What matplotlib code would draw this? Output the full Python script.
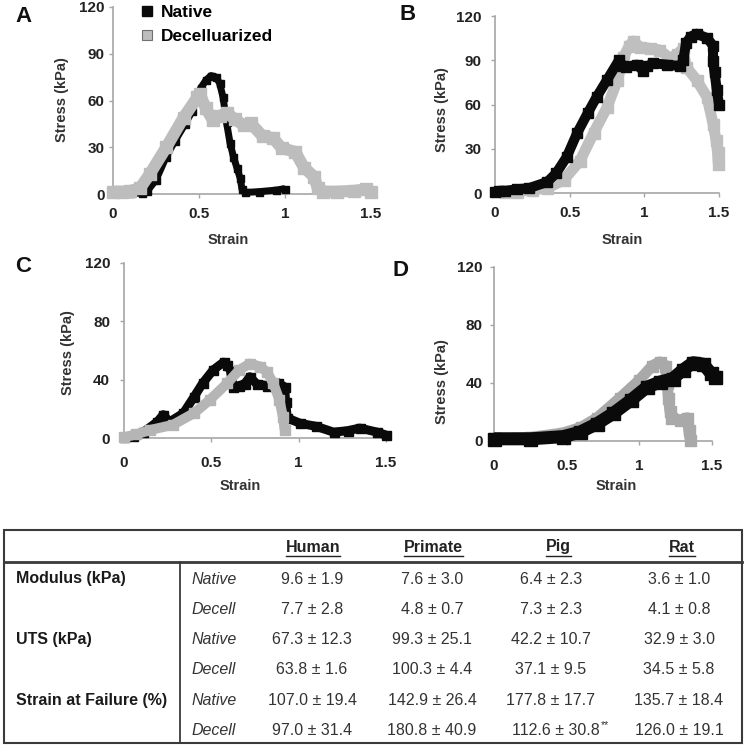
import matplotlib
matplotlib.use("Agg")
import matplotlib.pyplot as plt
from matplotlib.lines import Line2D
from matplotlib.patches import Rectangle

plt.rcParams['font.family'] = ['Liberation Sans', 'DejaVu Sans']

# ---------------- data ----------------
strain_ticks = [0, 0.5, 1, 1.5]
strain_tick_labels = ["0", "0.5", "1", "1.5"]
stress_ticks_ab = [0, 30, 60, 90, 120]
stress_ticks_cd = [0, 40, 80, 120]

a_nat_x = [0.0, 0.1, 0.17, 0.2, 0.25, 0.31, 0.36, 0.42, 0.46, 0.48, 0.51, 0.54, 0.57, 0.6, 0.62, 0.64,
           0.66, 0.68, 0.7, 0.72, 0.74, 0.75, 0.77, 0.85, 0.95, 1.0]
a_nat_y = [0.5, 0.5, 0.5, 2, 9, 24, 34, 45, 53, 60, 68, 73, 76, 75, 71, 62,
           46, 33, 24, 17, 10, 3, 1, 1.5, 2.5, 3.5]
a_dec_x = [0.0, 0.05, 0.1, 0.157, 0.215, 0.31, 0.41, 0.49, 0.505, 0.54, 0.58, 0.62, 0.66, 0.71,
           0.76, 0.8, 0.87, 0.93, 0.98, 1.06, 1.11, 1.17, 1.19, 1.22, 1.3, 1.4, 1.47, 1.5]
a_dec_y = [1.5, 1.5, 2, 3.7, 13, 30, 49, 62, 64, 55, 47.5, 50, 52, 48,
           44, 45.5, 37, 36, 29.5, 27, 17, 11, 3.7, 1.5, 1.5, 2, 3, 1.5]

b_nat_x = [0.0, 0.03, 0.07, 0.15, 0.23, 0.35, 0.41, 0.48, 0.55, 0.62, 0.68, 0.75, 0.83, 0.86, 0.88,
           0.95, 0.99, 1.02, 1.06, 1.15, 1.24, 1.26, 1.28, 1.31, 1.35, 1.42, 1.46, 1.46, 1.47, 1.485, 1.5]
b_nat_y = [1, 1.5, 1.5, 2.5, 3.4, 7.5, 13.5, 24.4, 40.6, 54, 65, 76.6, 90, 86, 85.5,
           87, 83, 86, 88, 87, 86, 90, 101.7, 106, 108, 105, 100, 89.5, 82, 70, 60]
b_dec_x = [0.07, 0.15, 0.25, 0.35, 0.46, 0.57, 0.66, 0.75, 0.82, 0.86, 0.9, 0.925, 0.97, 1.04,
           1.1, 1.17, 1.22, 1.26, 1.28, 1.35, 1.42, 1.46, 1.48, 1.49, 1.495]
b_dec_y = [0.5, 1, 2, 3.4, 8.8, 22, 40.6, 58, 76.6, 92, 100, 103, 99, 98,
           97, 91.5, 94, 98, 85.5, 76.6, 65, 47, 36, 28, 20]

c_nat_x = [0.0, 0.05, 0.11, 0.19, 0.225, 0.26, 0.34, 0.40, 0.45, 0.51, 0.57, 0.59, 0.61, 0.625,
           0.66, 0.69, 0.72, 0.76, 0.82, 0.85, 0.88, 0.92, 0.925, 0.935, 1.01, 1.1, 1.2, 1.28,
           1.35, 1.45, 1.5]
c_nat_y = [0.5, 1.5, 4, 11, 16, 11, 17, 28, 37.5, 46.6, 52, 50, 46, 35,
           36, 37, 42, 37, 36, 38, 38, 35, 25, 13.7, 10, 8, 4, 5,
           6.8, 4, 2]
c_dec_x = [0.0, 0.07, 0.15, 0.28, 0.40, 0.49, 0.59, 0.66, 0.72, 0.78, 0.82, 0.855, 0.89, 0.91, 0.92]
c_dec_y = [0.5, 2.5, 5.5, 9, 17, 26, 37.5, 46.6, 51, 49, 45, 37.5, 26, 14.4, 5.5]

d_nat_x = [0.0, 0.25, 0.475, 0.59, 0.71, 0.82, 0.94, 1.05, 1.14, 1.23, 1.30, 1.37, 1.44, 1.49, 1.52]
d_nat_y = [1.5, 1.5, 3, 6, 12, 19, 28, 37, 40.6, 43, 49, 54, 53, 47, 44]
d_dec_x = [0.0, 0.25, 0.475, 0.6, 0.71, 0.87, 1.0, 1.09, 1.14, 1.18, 1.19, 1.20, 1.21, 1.22,
           1.28, 1.33, 1.34, 1.35]
d_dec_y = [2, 2.5, 5.5, 9.5, 16, 30, 42, 52, 54.5, 52, 40, 30, 21, 16,
           14.5, 16, 7.6, 1]

series_labels = ["Native", "Decelluarized"]

# table data
species = ["Human", "Primate", "Pig", "Rat"]
properties = ["Modulus (kPa)", "UTS (kPa)", "Strain at Failure (%)"]
conditions = ["Native", "Decell"]
human_mean = [9.6, 7.7, 67.3, 63.8, 107.0, 97.0]
human_sd = [1.9, 2.8, 12.3, 1.6, 19.4, 31.4]
primate_mean = [7.6, 4.8, 99.3, 100.3, 142.9, 180.8]
primate_sd = [3.0, 0.7, 25.1, 4.4, 26.4, 40.9]
pig_mean = [6.4, 7.3, 42.2, 37.1, 177.8, 112.6]
pig_sd = [2.3, 2.3, 10.7, 9.5, 17.7, 30.8]
rat_mean = [3.6, 4.1, 32.9, 34.5, 135.7, 126.0]
rat_sd = [1.0, 0.8, 3.0, 5.8, 18.4, 19.1]
pig_note = ["", "", "", "", "", "**"]

# ---------------- figure ----------------
W, H = 746, 750
fig = plt.figure(figsize=(W / 100, H / 100), dpi=100)


def fx(px):
    return px / W


def fy(py):
    return 1 - py / H


def axrect(l, r, t, b):
    return [l / W, 1 - b / H, (r - l) / W, (b - t) / H]


BLACK = '#0a0a0a'
panels = [
    dict(rect=axrect(113, 371, 7, 194), yt=stress_ticks_ab, nat=(a_nat_x, a_nat_y), dec=(a_dec_x, a_dec_y),
         gray='#bdbdbd', nlw=7, dlw=12, gray_top=True, letter='A', lpos=(23, 17),
         xl=(0.446, -0.246), yl=(-0.198, 0.503), ypad=3, xpad=6),
    dict(rect=axrect(495, 719, 16, 193), yt=stress_ticks_ab, nat=(b_nat_x, b_nat_y), dec=(b_dec_x, b_dec_y),
         gray='#bfbfbf', nlw=10, dlw=11, gray_top=False, letter='B', lpos=(408, 15),
         xl=(0.567, -0.266), yl=(-0.237, 0.469), ypad=6.5, xpad=6),
    dict(rect=axrect(124, 386, 263, 438), yt=stress_ticks_cd, nat=(c_nat_x, c_nat_y), dec=(c_dec_x, c_dec_y),
         gray='#b5b5b5', nlw=9, dlw=10, gray_top=True, letter='C', lpos=(23, 266),
         xl=(0.443, -0.274), yl=(-0.214, 0.491), ypad=7, xpad=10),
    dict(rect=axrect(494, 712, 267, 441), yt=stress_ticks_cd, nat=(d_nat_x, d_nat_y), dec=(d_dec_x, d_dec_y),
         gray='#a9a9a9', nlw=13, dlw=11, gray_top=False, letter='D', lpos=(400, 271),
         xl=(0.56, -0.259), yl=(-0.239, 0.339), ypad=5, xpad=10),
]

axes = []
for p in panels:
    ax = fig.add_axes(p['rect'])
    axes.append(ax)
    ax.set_xlim(0, 1.5)
    ax.set_ylim(0, 120)
    for s in ['top', 'right']:
        ax.spines[s].set_visible(False)
    for s in ['left', 'bottom']:
        ax.spines[s].set_color('#a6a6a6')
        ax.spines[s].set_linewidth(1.2)
    ax.set_xticks(strain_ticks, strain_tick_labels, fontweight='bold')
    ax.set_yticks(p['yt'], [str(v) for v in p['yt']], fontweight='bold')
    ax.tick_params(direction='out', length=3, width=1, color='#a6a6a6', labelsize=11, labelcolor='#222222')
    ax.tick_params(axis='y', pad=p['ypad'])
    ax.tick_params(axis='x', pad=p['xpad'])
    ax.patch.set_visible(False)

    zn, zd = (3, 4) if p['gray_top'] else (4, 3)
    nlw = p['nlw'] * 0.72
    dlw = p['dlw'] * 0.72
    ax.plot(p['nat'][0], p['nat'][1], color=BLACK, lw=nlw, marker='s', ms=nlw, mec=BLACK,
            solid_joinstyle='round', solid_capstyle='butt', clip_on=False, zorder=zn)
    ax.plot(p['dec'][0], p['dec'][1], color=p['gray'], lw=dlw, marker='s', ms=dlw, mec=p['gray'],
            solid_joinstyle='round', solid_capstyle='butt', clip_on=False, zorder=zd)

    ax.set_xlabel('Strain', fontsize=10.5, fontweight='bold', color='#333333', va='center')
    ax.xaxis.set_label_coords(*p['xl'])
    ax.set_ylabel('Stress (kPa)', fontsize=10.5, fontweight='bold', color='#333333', va='center')
    ax.yaxis.set_label_coords(*p['yl'])

    fig.text(fx(p['lpos'][0]), fy(p['lpos'][1]), p['letter'], fontsize=16, fontweight='bold',
             color='#111111', ha='center', va='center')

# legend in panel A
handles = [Line2D([], [], ls='', marker='s', ms=7.5, mfc=BLACK, mec=BLACK),
           Line2D([], [], ls='', marker='s', ms=7.5, mfc='#bdbdbd', mec='#707070', mew=0.8)]
axes[0].legend(handles, series_labels, loc='upper left', bbox_to_anchor=(fx(141), fy(5)),
               bbox_transform=fig.transFigure, frameon=False,
               prop=dict(weight='bold', size=12.5), handlelength=0.7, handletextpad=0.45,
               labelspacing=0.48, borderpad=0, borderaxespad=0)

# ---------------- table ----------------
line_c = '#3a3a3a'
fig.patches.append(Rectangle((fx(4), fy(743)), fx(742) - fx(4), fy(530) - fy(743), transform=fig.transFigure,
                             fill=False, edgecolor=line_c, lw=1.5))
fig.lines.append(Line2D([fx(4), fx(742)], [fy(562), fy(562)], transform=fig.transFigure, color=line_c, lw=2))
fig.lines.append(Line2D([fx(180), fx(180)], [fy(562), fy(743)], transform=fig.transFigure, color=line_c, lw=1.3))

header_x = [313, 433, 558, 682]
value_x = [312, 432, 551, 679]
header_y = 547
row_y = [579 + 30.3 * i for i in range(6)]
FS = 11.5

header_texts = []
for name, hx in zip(species, header_x):
    t = fig.text(fx(hx), fy(header_y), name, fontsize=FS, fontweight='bold', color='#222222',
                 ha='center', va='center')
    header_texts.append(t)

for i, prop in enumerate(properties):
    fig.text(fx(16), fy(row_y[2 * i]), prop, fontsize=FS, fontweight='bold', color='#1a1a1a',
             ha='left', va='center')
for r in range(6):
    fig.text(fx(191), fy(row_y[r]), conditions[r % 2], fontsize=FS, fontstyle='italic', color='#333333',
             ha='left', va='center')

all_means = [human_mean, primate_mean, pig_mean, rat_mean]
all_sds = [human_sd, primate_sd, pig_sd, rat_sd]
for c in range(4):
    for r in range(6):
        s = f"{all_means[c][r]:.1f} \u00b1 {all_sds[c][r]:.1f}"
        if c == 2 and pig_note[r]:
            fig.text(fx(600), fy(row_y[r]), s, fontsize=FS, color='#333333', ha='right', va='center')
            fig.text(fx(601), fy(row_y[r] - 5), pig_note[r], fontsize=7.5, color='#333333',
                     ha='left', va='center')
        else:
            fig.text(fx(value_x[c]), fy(row_y[r]), s, fontsize=FS, color='#333333', ha='center', va='center')

# underline headers
fig.canvas.draw()
renderer = fig.canvas.get_renderer()
for t in header_texts:
    bb = t.get_window_extent(renderer)
    fig.lines.append(Line2D([bb.x0 / W, bb.x1 / W], [fy(555.5), fy(555.5)], transform=fig.transFigure,
                            color='#222222', lw=1.0))

fig.savefig('out.png', dpi=100)
